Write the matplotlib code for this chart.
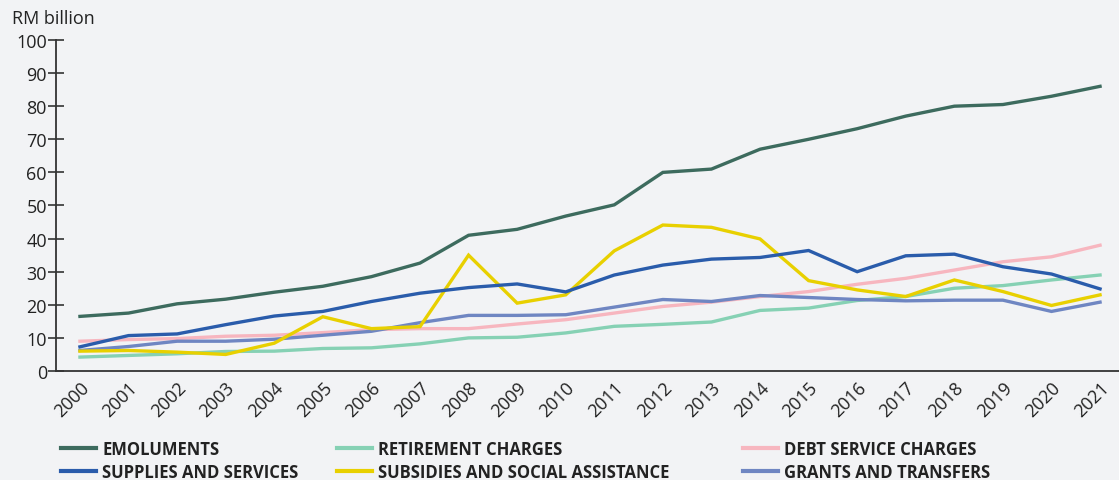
import matplotlib.pyplot as plt
from matplotlib.lines import Line2D

plt.rcParams['font.family'] = ['Open Sans', 'DejaVu Sans']

years = list(range(2000, 2022))

emoluments = [16.5, 17.5, 20.3, 21.7, 23.8, 25.6, 28.5, 32.6, 41.0, 42.8, 46.8,
              50.2, 60.0, 61.0, 67.0, 70.0, 73.2, 77.0, 80.0, 80.5, 83.0, 86.0]
retirement = [4.2, 4.7, 5.2, 5.9, 6.0, 6.8, 7.0, 8.2, 10.0, 10.2, 11.5,
              13.5, 14.1, 14.8, 18.3, 19.0, 21.3, 22.5, 25.0, 25.8, 27.5, 29.0]
debt_service = [9.0, 9.5, 9.8, 10.5, 10.8, 11.6, 12.5, 12.8, 12.8, 14.2, 15.5,
                17.5, 19.5, 20.8, 22.5, 24.0, 26.2, 28.0, 30.5, 33.0, 34.5, 38.0]
supplies = [7.3, 10.7, 11.2, 14.0, 16.6, 18.0, 21.0, 23.5, 25.2, 26.3, 23.9,
            29.0, 32.0, 33.8, 34.3, 36.4, 30.0, 34.8, 35.3, 31.5, 29.3, 24.8]
subsidies = [6.0, 6.2, 5.7, 5.0, 8.4, 16.4, 12.8, 13.4, 35.0, 20.5, 23.0,
             36.3, 44.1, 43.4, 39.9, 27.3, 24.5, 22.5, 27.5, 24.0, 19.8, 23.0]
grants = [6.2, 7.4, 9.0, 9.0, 9.6, 10.8, 12.0, 14.6, 16.8, 16.8, 17.0,
          19.3, 21.6, 21.0, 22.8, 22.2, 21.6, 21.2, 21.4, 21.4, 18.0, 20.8]

series = [
    ('EMOLUMENTS', emoluments, '#3d6b5e'),
    ('RETIREMENT CHARGES', retirement, '#86d1b4'),
    ('DEBT SERVICE CHARGES', debt_service, '#f7b6bf'),
    ('SUPPLIES AND SERVICES', supplies, '#2a5cab'),
    ('SUBSIDIES AND SOCIAL ASSISTANCE', subsidies, '#e8d000'),
    ('GRANTS AND TRANSFERS', grants, '#6f86c2'),
]

bg = '#f2f3f5'
fig = plt.figure(figsize=(11.19, 4.81), dpi=100, facecolor=bg)
ax = fig.add_axes([0.05, 0.2266, 0.95, 0.6882], facecolor=bg)

# draw order so the darker lines sit on top
for idx in [1, 2, 5, 4, 3, 0]:
    name, vals, col = series[idx]
    ax.plot(years, vals, color=col, linewidth=2.4, solid_joinstyle='miter')

ax.set_xlim(1999.506, 2021.39)
ax.set_ylim(0, 100)
ax.set_yticks(range(0, 101, 10))
ax.set_xticks(years)
ax.set_xticklabels([str(y) for y in years], rotation=45, ha='right',
                   rotation_mode='anchor', fontsize=13, color='#222222')
ax.tick_params(axis='y', direction='inout', length=11, width=1.2,
               labelsize=13, labelcolor='#222222', color='#333333', pad=1)
ax.tick_params(axis='x', length=0, pad=5)
for s in ['top', 'right']:
    ax.spines[s].set_visible(False)
for s in ['left', 'bottom']:
    ax.spines[s].set_color('#333333')
    ax.spines[s].set_linewidth(1.3)

fig.text(0.011, 0.96, 'RM billion', fontsize=13, color='#222222',
         ha='left', va='center')

# legend, one block per column
cols = [(0, 3, 0.0545), (1, 4, 0.301), (2, 5, 0.664)]
for a, b, xpos in cols:
    handles = [Line2D([], [], color=series[i][2], linewidth=3) for i in (a, b)]
    labels = [series[i][0] for i in (a, b)]
    leg = fig.legend(handles, labels, loc='upper left',
                     bbox_to_anchor=(xpos, 0.083), frameon=False,
                     handlelength=2.1, handletextpad=0.38, labelspacing=0.3,
                     borderaxespad=0, borderpad=0,
                     prop={'size': 12, 'weight': 'bold'})
    for t in leg.get_texts():
        t.set_color('#222222')

fig.savefig('out.png', dpi=100, facecolor=bg)
